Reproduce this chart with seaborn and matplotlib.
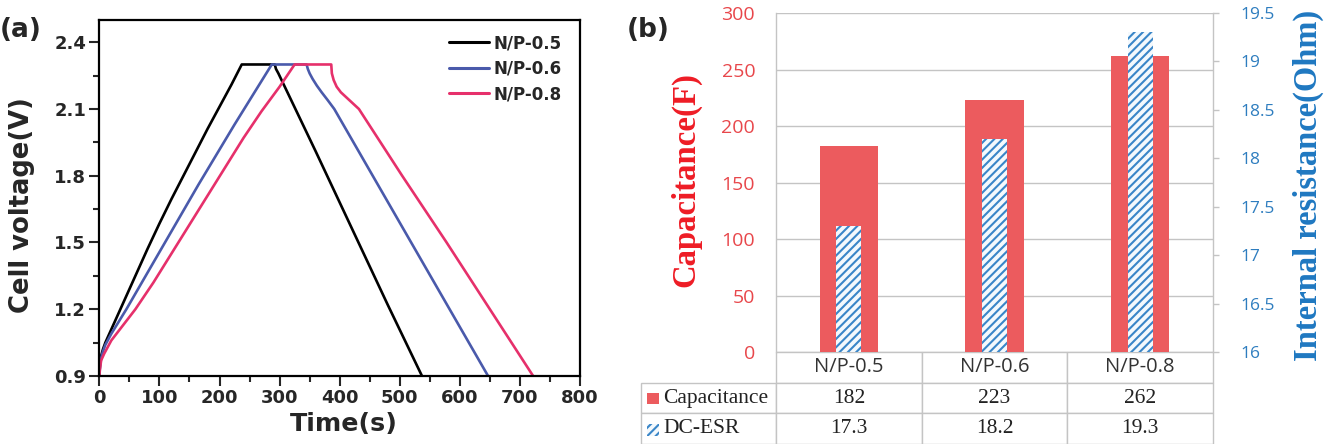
import numpy as np
import pandas as pd
import seaborn as sns
import matplotlib.pyplot as plt
from matplotlib.lines import Line2D
from matplotlib.patches import Rectangle
from matplotlib.ticker import FuncFormatter, MultipleLocator

# (a) charge / discharge curves
black_t = [0, 1, 3, 6, 10, 20, 35, 50, 65, 80, 100, 120, 140, 160, 180, 200, 220, 237,
           292, 294, 298, 360, 420, 480, 537]
black_v = [0.90, 0.95, 0.99, 1.02, 1.05, 1.11, 1.20, 1.29, 1.38, 1.47, 1.585, 1.695, 1.80, 1.905, 2.01, 2.11, 2.21, 2.30,
           2.30, 2.28, 2.26, 1.91, 1.565, 1.22, 0.90]
blue_t = [0, 1, 3, 6, 10, 20, 45, 75, 105, 135, 165, 195, 225, 256, 287,
          345, 347, 350, 355, 362, 370, 380, 391, 455, 519, 583, 647]
blue_v = [0.90, 0.94, 0.98, 1.01, 1.04, 1.09, 1.20, 1.34, 1.48, 1.62, 1.76, 1.895, 2.03, 2.165, 2.30,
          2.30, 2.28, 2.26, 2.235, 2.205, 2.175, 2.14, 2.10, 1.80, 1.50, 1.20, 0.90]
pink_t = [0, 1, 3, 8, 20, 40, 60, 90, 120, 150, 180, 210, 240, 270, 300, 325,
          386, 387, 390, 395, 402, 410, 420, 432, 504, 578, 650, 722]
pink_v = [0.90, 0.93, 0.97, 1.00, 1.06, 1.13, 1.20, 1.32, 1.45, 1.58, 1.71, 1.84, 1.97, 2.09, 2.20, 2.30,
          2.30, 2.26, 2.23, 2.20, 2.175, 2.155, 2.13, 2.10, 1.80, 1.50, 1.20, 0.90]
series_names = ["N/P-0.5", "N/P-0.6", "N/P-0.8"]
line_colors = ["#000000", "#4A5AAB", "#E6306B"]

# (b) capacitance and DC-ESR
categories = ["N/P-0.5", "N/P-0.6", "N/P-0.8"]
capacitance = [182, 223, 262]
dc_esr = [17.3, 18.2, 19.3]
row_names = ["Capacitance", "DC-ESR"]

red = "#EC5B5E"
red_txt = "#E8474B"
blue = "#3A86C8"

sns.set_theme(style="ticks")
plt.rcParams['font.family'] = ['DejaVu Sans']
plt.rcParams['hatch.linewidth'] = 1.5

fig = plt.figure(figsize=(13.37, 4.44), dpi=100)

# ---------- panel (a)
ax = fig.add_axes([0.0743, 0.1532, 0.3595, 0.8018])
frames = []
for name, t, v in zip(series_names, [black_t, blue_t, pink_t], [black_v, blue_v, pink_v]):
    frames.append(pd.DataFrame({"time": t, "voltage": v, "series": name}))
df = pd.concat(frames, ignore_index=True)
sns.lineplot(data=df, x="time", y="voltage", hue="series", palette=line_colors,
             sort=False, estimator=None, lw=1.9, legend=False, ax=ax)
ax.set_xlim(0, 800)
ax.set_ylim(0.9, 2.5)
ax.set_xticks(np.arange(0, 801, 100))
ax.set_yticks(np.arange(0.9, 2.41, 0.3))
ax.yaxis.set_major_formatter(FuncFormatter(lambda x, p: f"{x:.1f}"))
ax.xaxis.set_minor_locator(MultipleLocator(50))
ax.yaxis.set_minor_locator(MultipleLocator(0.15))
ax.tick_params(which="major", direction="out", length=7, width=1.5, labelsize=13, pad=2.5)
ax.tick_params(which="minor", direction="out", length=4, width=1.5)
for lab in ax.get_xticklabels() + ax.get_yticklabels():
    lab.set_fontweight("bold")
for s in ax.spines.values():
    s.set_linewidth(1.6)
    s.set_color("black")
ax.set_xlabel("Time(s)", fontsize=18.5, fontweight="bold")
ax.set_ylabel("Cell voltage(V)", fontsize=18.5, fontweight="bold")
ax.xaxis.set_label_coords(0.509, -0.1)
ax.yaxis.set_label_coords(-0.134, 0.48)
handles = [Line2D([0], [0], color=c, lw=2.2) for c in line_colors]
ax.legend(handles, series_names, loc="upper left", bbox_to_anchor=(0.728, 0.96),
          frameon=False, borderpad=0, borderaxespad=0, handlelength=2.4,
          handletextpad=0.25, labelspacing=0.45, prop={"weight": "bold", "size": 12})

fig.text(0.0, 1 - 30 / 444, "(a)", ha="left", va="center", fontsize=19, fontweight="bold")
fig.text(627 / 1337, 1 - 30 / 444, "(b)", ha="left", va="center", fontsize=19, fontweight="bold")

# ---------- panel (b)
grid_c = "#C4C4C4"
axb = fig.add_axes([0.5804, 0.2072, 0.3269, 0.7635])
sns.barplot(x=categories, y=capacitance, ax=axb, color=red, saturation=1, width=0.4, linewidth=0)
axb.set_ylim(0, 300)
axb.set_yticks(np.arange(0, 301, 50))
axb.set_axisbelow(True)
axb.yaxis.grid(True, color=grid_c, lw=1)
axb.xaxis.grid(False)
axb.set_xticks(range(len(categories)))
axb.set_xticklabels([])
axb.tick_params(axis="x", length=0)
axb.tick_params(axis="y", length=0, pad=15, labelsize=14, labelcolor=red_txt)
for lab in axb.get_yticklabels():
    lab.set_fontfamily("Open Sans")
for k in ["top", "bottom"]:
    axb.spines[k].set_visible(False)
for k in ["left", "right"]:
    axb.spines[k].set_color(grid_c)
    axb.spines[k].set_linewidth(1)
axb.set_xlabel("")
axb.set_ylabel("Capacitance(F)", fontsize=23, fontweight="bold", color="#EE1C25",
               fontfamily="Liberation Serif")
axb.yaxis.set_label_coords(-0.17, 0.51)

axr = axb.twinx()
sns.barplot(x=categories, y=dc_esr, ax=axr, color="white", saturation=1, width=0.17, linewidth=0)
for p in axr.patches:
    p.set_facecolor("#F4F9FD")
    p.set_edgecolor(blue)
    p.set_hatch("////")
    p.set_linewidth(0)
axr.set_ylim(16, 19.5)
axr.set_yticks(np.arange(16, 19.51, 0.5))
axr.yaxis.set_major_formatter(FuncFormatter(lambda x, p: f"{x:g}"))
axr.tick_params(axis="y", length=4, width=1, color=grid_c, pad=16, labelsize=12.5, labelcolor="#2E7DBF")
for lab in axr.get_yticklabels():
    lab.set_fontfamily("Open Sans")
for s in axr.spines.values():
    s.set_visible(False)
axr.set_ylabel("Internal resistance(Ohm)", fontsize=22, fontweight="bold", color="#1F78C1",
               fontfamily="Liberation Serif")
axr.yaxis.set_label_coords(1.183, 0.49)

# table under the bars
cell_text = [[row_names[0]] + [str(v) for v in capacitance],
             [row_names[1]] + [f"{v:.1f}" for v in dc_esr]]
col_w = [135, 145.7, 145.7, 145.7]
tab = axb.table(cellText=cell_text, colLabels=[""] + categories,
                colWidths=[w / sum(col_w) for w in col_w], cellLoc="center",
                bbox=[-0.309, -0.2714, 1.309, 0.2714])
tab.auto_set_font_size(False)
for (r, c), cell in tab.get_celld().items():
    cell.set_edgecolor(grid_c)
    cell.set_linewidth(1)
    txt = cell.get_text()
    if r == 0:
        txt.set_fontfamily("Open Sans")
        txt.set_fontsize(14.5)
        txt.set_color("#333333")
        if c == 0:
            cell.visible_edges = "open"
    else:
        txt.set_fontfamily("Liberation Serif")
        txt.set_fontsize(15.5)
        txt.set_color("#222222")
        if c == 0:
            cell._loc = "left"
            txt.set_horizontalalignment("left")
            cell.PAD = 0.165

# legend keys inside the table row labels
axb.add_patch(Rectangle((-0.294, -0.152), 0.026, 0.032, transform=axb.transAxes,
                        facecolor=red, edgecolor="none", clip_on=False))
axb.add_patch(Rectangle((-0.294, -0.247), 0.026, 0.034, transform=axb.transAxes,
                        facecolor="#F4F9FD", edgecolor=blue, hatch="////", lw=0, clip_on=False))

# fit the axis titles to the lengths seen in the picture (pixels)
fig.canvas.draw()
for lab, target, vertical in [(axb.yaxis.label, 215, True), (axr.yaxis.label, 352, True),
                              (ax.yaxis.label, 217, True), (ax.xaxis.label, 108, False)]:
    bb = lab.get_window_extent()
    size_now = bb.height if vertical else bb.width
    lab.set_fontsize(lab.get_fontsize() * target / size_now)

fig.savefig("out.png", dpi=100)
